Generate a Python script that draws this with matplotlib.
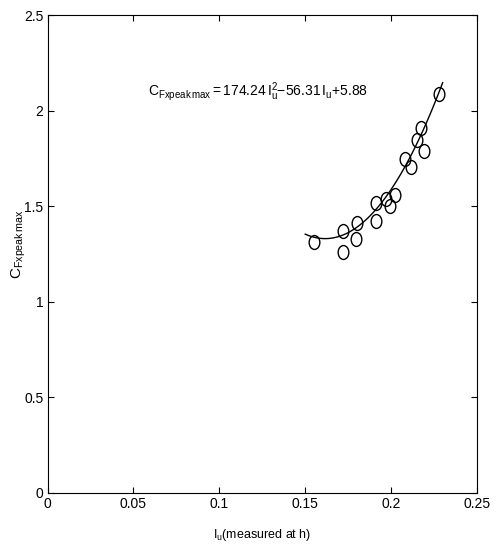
import numpy as np
import matplotlib
matplotlib.use('Agg')
import matplotlib.pyplot as plt
from matplotlib.path import Path
from matplotlib.transforms import Affine2D

# measured points
iu = [0.1553, 0.1718, 0.1718, 0.1794, 0.1801, 0.1910, 0.1912, 0.1970,
      0.1994, 0.2024, 0.2081, 0.2114, 0.2149, 0.2176, 0.2192, 0.2279]
cf = [1.314, 1.372, 1.259, 1.327, 1.411, 1.424, 1.518, 1.536,
      1.501, 1.557, 1.745, 1.703, 1.846, 1.907, 1.789, 2.087]

# fit coefficients as printed on the chart
coef = [174.24, -56.31, 5.88]
fit_range = [0.150, 0.230]

xticks = [0, 0.05, 0.1, 0.15, 0.2, 0.25]
xticklabels = ['0', '0.05', '0.1', '0.15', '0.2', '0.25']
yticks = [0, 0.5, 1, 1.5, 2, 2.5]
yticklabels = ['0', '0.5', '1', '1.5', '2', '2.5']

plt.rcParams['font.family'] = ['Liberation Sans', 'DejaVu Sans']
plt.rcParams['mathtext.fontset'] = 'custom'
plt.rcParams['mathtext.rm'] = 'Liberation Sans'
plt.rcParams['mathtext.it'] = 'Liberation Sans'

fig = plt.figure(figsize=(4.96, 5.52), dpi=100)
ax = fig.add_axes([0.0958, 0.1069, 0.8659, 0.8659])

# slightly tall open circles, like the scanned original
oval = Path.unit_circle().transformed(Affine2D().scale(1.0, 1.3))

xf = np.linspace(fit_range[0], fit_range[1], 100)
ax.plot(xf, np.polyval(coef, xf), color='black', lw=1)
ax.plot(iu, cf, linestyle='none', marker=oval, mfc='none', mec='black', ms=10, mew=1)

ax.text(0.0585, 2.08,
        r'$\mathrm{C_{Fxpeak\,max}{=}174.24\,I_u^2{-}56.31\,I_u{+}5.88}$',
        fontsize=10)

ax.set_xlim(0, 0.25)
ax.set_ylim(0, 2.5)
ax.set_xticks(xticks)
ax.set_xticklabels(xticklabels)
ax.set_yticks(yticks)
ax.set_yticklabels(yticklabels)
ax.tick_params(direction='in', top=True, right=True, labelsize=10, length=4, pad=3)
for s in ax.spines.values():
    s.set_linewidth(0.8)

ax.set_xlabel(r'$\mathrm{I_u}$(measured at h)', fontsize=9)
ax.set_ylabel(r'$\mathrm{C_{Fxpeak\,max}}$', fontsize=11)
ax.xaxis.set_label_coords(0.5, -0.072)
ax.yaxis.set_label_coords(-0.045, 0.52)

fig.savefig('out.png', dpi=100)
